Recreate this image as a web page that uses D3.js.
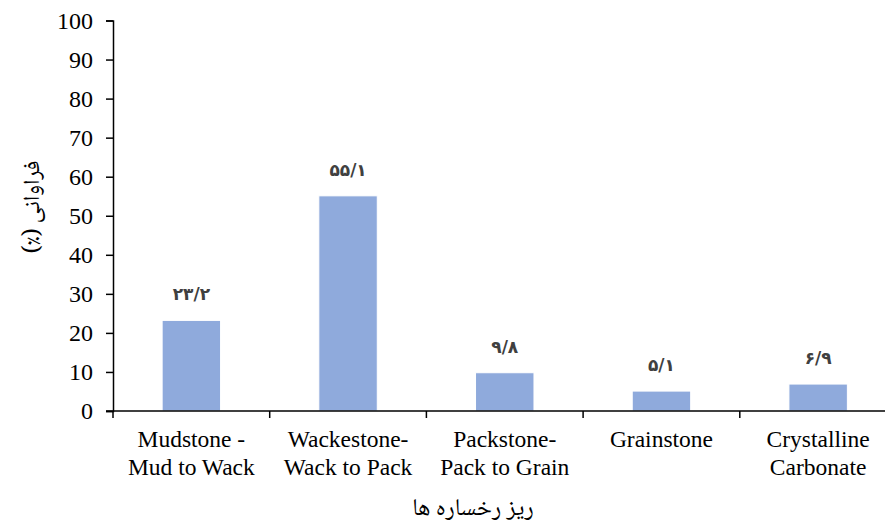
<!DOCTYPE html>
<html>
<head>
<meta charset="utf-8">
<script src="https://cdn.jsdelivr.net/npm/d3@7"></script>
<style>
  html, body { margin: 0; padding: 0; background: #fff; }
  svg { display: block; }
</style>
</head>
<body>
<svg id="chart" width="885" height="530"></svg>
<script>
// Microfacies categories (two-line labels) and their frequency in percent
const categories = [
  ["Mudstone -", "Mud to Wack"],
  ["Wackestone-", "Wack to Pack"],
  ["Packstone-", "Pack to Grain"],
  ["Grainstone"],
  ["Crystalline", "Carbonate"]
];
const values = [23.2, 55.1, 9.8, 5.1, 6.9];
const yTicks = [0, 10, 20, 30, 40, 50, 60, 70, 80, 90, 100];
const yTitle = "فراوانی (٪)";
const xTitle = "ریز رخساره ها";

const SERIF = '"Liberation Serif", "Times New Roman", serif';
const NASKH = '"Noto Naskh Arabic", "DejaVu Sans", serif';
const FA_NUM = '"DejaVu Sans", sans-serif';

const svg = d3.select("#chart");
const margin = { left: 113, top: 20.5, bottom: 411 };
const bandW = 156.7;

const x = d3.scaleBand()
  .domain(d3.range(categories.length))
  .range([margin.left, margin.left + bandW * categories.length])
  .paddingInner(0.627).paddingOuter(0.3135);

const y = d3.scaleLinear().domain([0, 100]).range([margin.bottom, margin.top]);

// Persian digits with "/" as the decimal mark
const faDigits = "۰۱۲۳۴۵۶۷۸۹";
const toFa = v => String(v).replace(".", "/").replace(/\d/g, d => faDigits[+d]);

// Bars
svg.append("g").selectAll("rect")
  .data(values)
  .join("rect")
  .attr("x", (d, i) => x(i))
  .attr("y", d => y(d))
  .attr("width", x.bandwidth())
  .attr("height", d => y(0) - y(d))
  .attr("fill", "#8faadc")
  .attr("stroke", "#ffffff")
  .attr("stroke-width", 1);

// Value labels
svg.append("g").selectAll("text")
  .data(values)
  .join("text")
  .attr("x", (d, i) => x(i) + x.bandwidth() / 2)
  .attr("y", d => y(d) - 20)
  .attr("text-anchor", "middle")
  .attr("direction", "ltr")
  .style("font-family", FA_NUM)
  .style("font-weight", "bold")
  .style("font-size", "17px")
  .style("letter-spacing", "2px")
  .attr("fill", "#404040")
  .text(d => toFa(d));

// Y axis
const yAxis = svg.append("g")
  .attr("transform", `translate(${margin.left},0)`)
  .call(d3.axisLeft(y).tickValues(yTicks).tickSize(7).tickPadding(13).tickFormat(d3.format("d")));
yAxis.select(".domain").attr("stroke", "#000").attr("stroke-width", 1.5);
yAxis.selectAll(".tick line").attr("stroke", "#000").attr("stroke-width", 1.5);
yAxis.selectAll(".tick text")
  .style("font-family", SERIF)
  .style("font-size", "24px")
  .attr("fill", "#000");

// X axis line with category boundary ticks
const xAxis = svg.append("g");
xAxis.append("line")
  .attr("x1", margin.left - 7).attr("x2", 885)
  .attr("y1", y(0)).attr("y2", y(0))
  .attr("stroke", "#000").attr("stroke-width", 1.5);
xAxis.selectAll("line.tick")
  .data(d3.range(categories.length + 1))
  .join("line")
  .attr("class", "tick")
  .attr("x1", i => margin.left + i * bandW)
  .attr("x2", i => margin.left + i * bandW)
  .attr("y1", y(0)).attr("y2", y(0) + 7)
  .attr("stroke", "#000").attr("stroke-width", 1.5);

// Category labels
const catText = xAxis.selectAll("text.cat")
  .data(categories)
  .join("text")
  .attr("class", "cat")
  .attr("text-anchor", "middle")
  .style("font-family", SERIF)
  .style("font-size", "23.5px")
  .attr("fill", "#000");
catText.each(function(lines, i) {
  const cx = x(i) + x.bandwidth() / 2;
  d3.select(this).selectAll("tspan")
    .data(lines)
    .join("tspan")
    .attr("x", cx)
    .attr("y", (l, j) => 447 + j * 28)
    .text(l => l);
});

// Axis titles (right-to-left text)
svg.append("text")
  .attr("transform", "translate(39,207) rotate(-90)")
  .attr("text-anchor", "middle")
  .attr("direction", "rtl")
  .attr("unicode-bidi", "embed")
  .style("font-family", NASKH)
  .style("font-size", "23px")
  .attr("fill", "#000")
  .text(yTitle);

svg.append("text")
  .attr("x", 473).attr("y", 515)
  .attr("text-anchor", "middle")
  .attr("direction", "rtl")
  .attr("unicode-bidi", "embed")
  .style("font-family", NASKH)
  .style("font-size", "24px")
  .attr("fill", "#000")
  .text(xTitle);
</script>
</body>
</html>
